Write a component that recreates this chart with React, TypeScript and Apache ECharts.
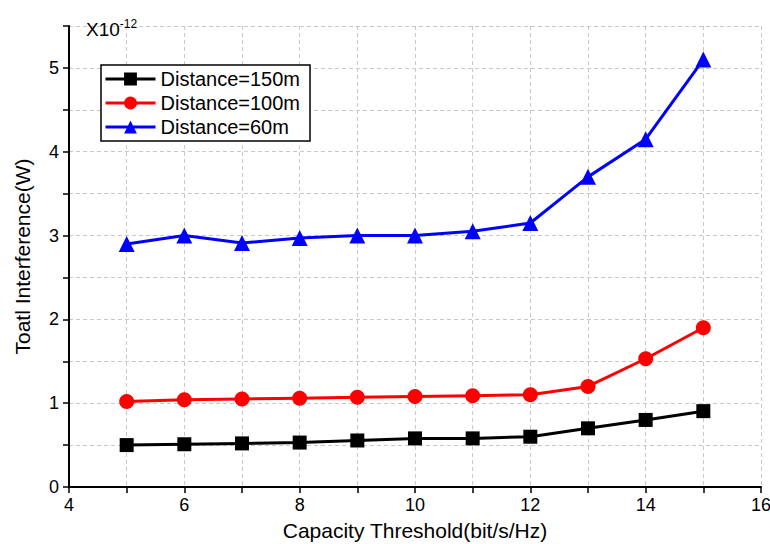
import React, { useEffect, useRef } from "react";
import * as echarts from "echarts";

const xValues = [5, 6, 7, 8, 9, 10, 11, 12, 13, 14, 15];
const dist150 = [0.5, 0.51, 0.52, 0.53, 0.555, 0.58, 0.58, 0.6, 0.7, 0.8, 0.905];
const dist100 = [1.02, 1.04, 1.05, 1.06, 1.07, 1.08, 1.09, 1.1, 1.2, 1.53, 1.9];
const dist60 = [2.9, 3.0, 2.91, 2.97, 3.0, 3.0, 3.05, 3.15, 3.7, 4.15, 5.1];
const seriesNames = ["Distance=150m", "Distance=100m", "Distance=60m"];

const FONT = "Liberation Sans, Arial, sans-serif";

export default function App() {
  const ref = useRef<HTMLDivElement>(null);
  useEffect(() => {
    if (!ref.current) return;
    const chart = echarts.init(ref.current, null, { renderer: "svg" });
    const pair = (ys: number[]) => xValues.map((x, i) => [x, ys[i]]);
    const mk = (name: string, data: number[], color: string, symbol: string, size: number) => ({
      name,
      type: "line",
      data: pair(data),
      symbol,
      symbolSize: size,
      lineStyle: { color, width: 3 },
      itemStyle: { color },
      z: 3,
    });
    chart.setOption({
      animation: false,
      backgroundColor: "#ffffff",
      textStyle: { fontFamily: FONT },
      grid: { left: 69, right: 9, top: 26, bottom: 57, containLabel: false, outerBoundsMode: "none" },
      title: {
        text: "X10{sup|-12}",
        left: 81,
        top: 13,
        textStyle: {
          fontFamily: FONT,
          fontSize: 19,
          fontWeight: "normal",
          color: "#000",
          rich: {
            sup: { fontSize: 12, verticalAlign: "top", padding: [0, 0, 10, 0], fontFamily: FONT, color: "#000" },
          },
        },
      },
      legend: {
        left: 101,
        top: 65,
        orient: "vertical",
        data: seriesNames,
        borderColor: "#000",
        borderWidth: 1.5,
        borderRadius: 0,
        padding: [4, 10, 4, 3],
        itemGap: 4,
        itemWidth: 50,
        itemHeight: 16,
        lineStyle: { width: 3 },
        textStyle: { fontFamily: FONT, fontSize: 20, color: "#000" },
        backgroundColor: "#fff",
      },
      xAxis: {
        type: "value",
        min: 4,
        max: 16,
        interval: 1,
        name: "Capacity Threshold(bit/s/Hz)",
        nameLocation: "middle",
        nameGap: 33,
        nameTextStyle: { fontFamily: FONT, fontSize: 21, color: "#000" },
        axisLine: { lineStyle: { color: "#000", width: 2 } },
        axisTick: { show: true, length: 6, lineStyle: { color: "#000", width: 1.5 } },
        axisLabel: {
          fontFamily: FONT,
          fontSize: 18,
          color: "#000",
          margin: 9,
          formatter: (v: number) => (v % 2 === 0 ? String(v) : ""),
        },
        splitLine: { show: true, lineStyle: { color: "#c8c8c8", type: [4, 3], width: 1 } },
      },
      yAxis: {
        type: "value",
        min: 0,
        max: 5.5,
        interval: 0.5,
        name: "Toatl Interference(W)",
        nameLocation: "middle",
        nameGap: 36,
        nameTextStyle: { fontFamily: FONT, fontSize: 21, color: "#000" },
        axisLine: { show: true, lineStyle: { color: "#000", width: 2 } },
        axisTick: { show: true, length: 6, lineStyle: { color: "#000", width: 1.5 } },
        axisLabel: {
          fontFamily: FONT,
          fontSize: 18,
          color: "#000",
          margin: 10,
          formatter: (v: number) => (Number.isInteger(v) ? String(v) : ""),
        },
        splitLine: { show: true, lineStyle: { color: "#c8c8c8", type: [4, 3], width: 1 } },
      },
      series: [
        mk(seriesNames[0], dist150, "#000000", "rect", 14),
        mk(seriesNames[1], dist100, "#ff0000", "circle", 15),
        mk(seriesNames[2], dist60, "#0000ff", "triangle", 16),
      ],
    });
    return () => chart.dispose();
  }, []);
  return <div ref={ref} style={{ width: 770, height: 544, position: "absolute", left: 0, top: 0 }} />;
}
